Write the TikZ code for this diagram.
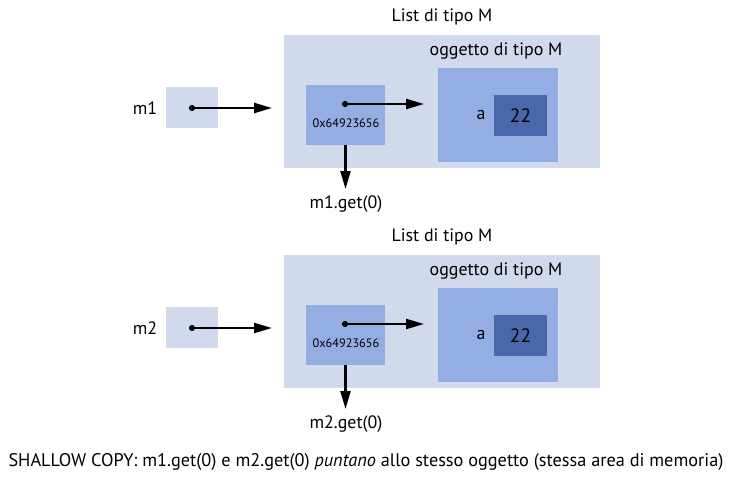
\documentclass[tikz,border=0pt]{standalone}
\usepackage{fontspec}
\setmainfont{PT Sans}
\usetikzlibrary{arrows.meta}
\definecolor{listblue}{RGB}{209,217,236}
\definecolor{cellblue}{RGB}{148,173,227}
\definecolor{valblue}{RGB}{74,103,172}
\tikzset{
  box/.style={inner sep=0pt,outer sep=0pt},
  listbox/.style={box,fill=listblue,minimum width=6.32cm,minimum height=2.66cm},
  varbox/.style={box,fill=listblue,minimum width=1.04cm,minimum height=0.82cm},
  ptrbox/.style={box,fill=cellblue,minimum width=1.58cm,minimum height=1.2cm},
  objbox/.style={box,fill=cellblue,minimum width=2.4cm,minimum height=1.88cm},
  valbox/.style={box,fill=valblue,minimum width=1.06cm,minimum height=0.82cm,font=\fontsize{11}{13}\selectfont},
  pin/.style={circle,fill=black,inner sep=0pt,minimum size=3.5pt},
  ref/.style={-{Triangle[length=3.6mm,width=2mm]},line width=1.3pt},
  lab/.style={font=\fontsize{10.2}{12}\selectfont},
  addr/.style={font=\fontsize{7}{8}\selectfont},
}
\begin{document}
\begin{tikzpicture}[x=0.02cm,y=-0.02cm]
  \path[use as bounding box] (0,0) rectangle (741,477);
  \foreach \dy/\m in {0/1,220/2}{
    \node[lab] (title\m) at (442,17+\dy) {List di tipo M};
    \node[listbox] (list\m) at (442,101.5+\dy) {};
    \node[lab] (objtitle\m) at (496,51+\dy) {oggetto di tipo M};
    \node[objbox] (obj\m) at (498,115+\dy) {};
    \node[valbox] (val\m) at (520.5,115.5+\dy) {22};
    \node[lab] (field\m) at (481,115+\dy) {a};
    \node[ptrbox] (ptr\m) at (345.5,115+\dy) {};
    \node[pin] (pdot\m) at (345,104+\dy) {};
    \node[addr] (addr\m) at (346,123+\dy) {0x64923656};
    \coordinate (pend\m) at (424,104+\dy);
    \draw[ref] (pdot\m.center) -- (pend\m);
    \coordinate (gend\m) at (345.5,189+\dy);
    \draw[ref] (ptr\m.south) -- (gend\m);
    \node[lab] (get\m) at (346,204+\dy) {m\m.get(0)};
    \node[varbox] (var\m) at (192,107.5+\dy) {};
    \node[pin] (vdot\m) at (192,108+\dy) {};
    \coordinate (vend\m) at (272,108+\dy);
    \draw[ref] (vdot\m.center) -- (vend\m);
    \node[lab] (name\m) at (145,108+\dy) {m\m};
  }
  \node[lab,font=\fontsize{10.4}{12}\selectfont] (caption) at (366,462)
    {SHALLOW COPY: m1.get(0) e m2.get(0) \textit{puntano} allo stesso oggetto (stessa area di memoria)};
\end{tikzpicture}
\end{document}
